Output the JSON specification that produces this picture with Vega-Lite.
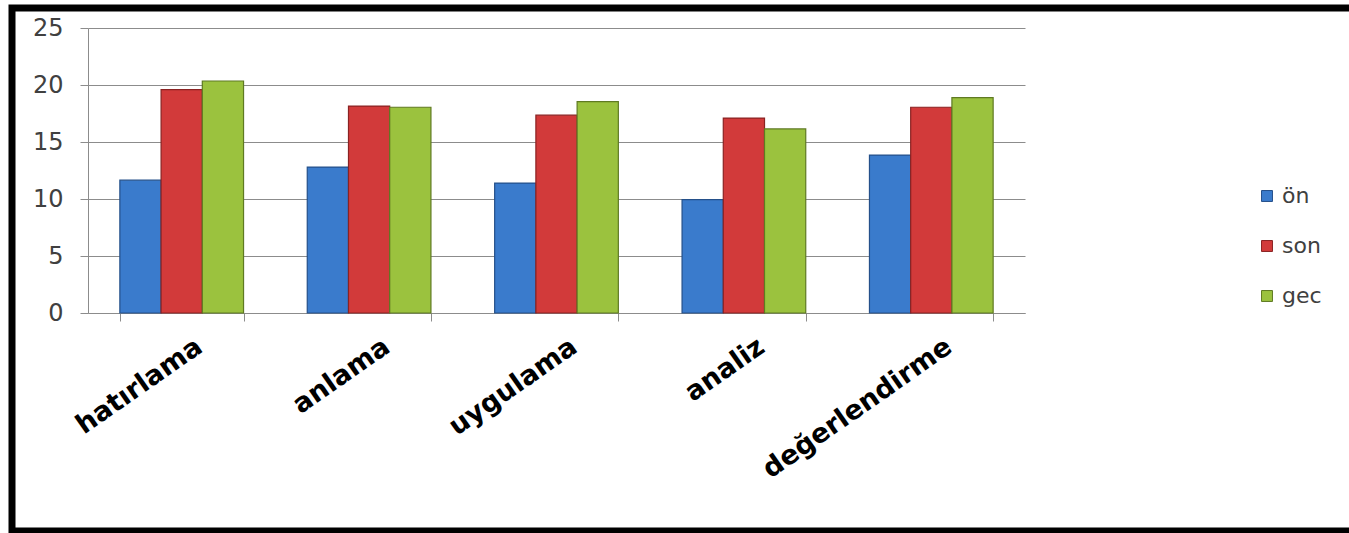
{
  "$schema": "https://vega.github.io/schema/vega-lite/v6.json",
  "width": 937,
  "height": 285,
  "autosize": "none",
  "padding": {"left": 88, "top": 28, "right": 324, "bottom": 220},
  "background": "white",
  "config": {"view": {"stroke": null}, "font": "DejaVu Sans"},
  "layer": [
    {
      "data": {
        "values": [
          {"kategori": "hatırlama", "seri": "ön", "deger": 11.65},
          {"kategori": "hatırlama", "seri": "son", "deger": 19.6},
          {"kategori": "hatırlama", "seri": "gec", "deger": 20.35},
          {"kategori": "anlama", "seri": "ön", "deger": 12.8},
          {"kategori": "anlama", "seri": "son", "deger": 18.15},
          {"kategori": "anlama", "seri": "gec", "deger": 18.05},
          {"kategori": "uygulama", "seri": "ön", "deger": 11.4},
          {"kategori": "uygulama", "seri": "son", "deger": 17.35},
          {"kategori": "uygulama", "seri": "gec", "deger": 18.55},
          {"kategori": "analiz", "seri": "ön", "deger": 9.95},
          {"kategori": "analiz", "seri": "son", "deger": 17.1},
          {"kategori": "analiz", "seri": "gec", "deger": 16.15},
          {"kategori": "değerlendirme", "seri": "ön", "deger": 13.85},
          {"kategori": "değerlendirme", "seri": "son", "deger": 18.05},
          {"kategori": "değerlendirme", "seri": "gec", "deger": 18.9}
        ]
      },
      "mark": {"type": "bar", "strokeWidth": 1.2},
      "encoding": {
        "x": {
          "field": "kategori",
          "type": "nominal",
          "sort": ["hatırlama", "anlama", "uygulama", "analiz", "değerlendirme"],
          "scale": {"paddingInner": 0.34, "paddingOuter": 0.17},
          "axis": {
            "title": null,
            "grid": false,
            "labelAngle": -35,
            "labelFontSize": 27,
            "labelFontWeight": "bold",
            "labelColor": "#000000",
            "labelPadding": 12,
            "labelOffset": 10,
            "labelLimit": 0,
            "labelOverlap": false,
            "tickBand": "extent",
            "tickSize": 8,
            "tickColor": "#8c8c8c",
            "domainColor": "#8c8c8c"
          }
        },
        "xOffset": {"field": "seri", "sort": ["ön", "son", "gec"]},
        "y": {
          "field": "deger",
          "type": "quantitative",
          "scale": {"domain": [0, 25]},
          "axis": {
            "title": null,
            "values": [0, 5, 10, 15, 20, 25],
            "grid": true,
            "gridColor": "#8c8c8c",
            "gridWidth": 1,
            "tickSize": 8,
            "tickColor": "#8c8c8c",
            "domainColor": "#8c8c8c",
            "labelFontSize": 24,
            "labelColor": "#404040",
            "labelPadding": 17
          }
        },
        "color": {
          "field": "seri",
          "type": "nominal",
          "scale": {"domain": ["ön", "son", "gec"], "range": ["#3a7bcc", "#d23a3a", "#9bc23e"]},
          "legend": {
            "title": null,
            "orient": "none",
            "legendX": 1168,
            "legendY": 157,
            "symbolType": "square",
            "symbolSize": 120,
            "symbolStrokeWidth": 1,
            "labelFontSize": 22,
            "labelColor": "#404040",
            "rowPadding": 28,
            "labelOffset": 4
          }
        },
        "stroke": {
          "field": "seri",
          "type": "nominal",
          "scale": {"domain": ["ön", "son", "gec"], "range": ["#24508a", "#8a2222", "#5f7a22"]},
          "legend": null
        }
      }
    },
    {
      "data": {"values": [{"parca": "çerçeve"}]},
      "mark": {"type": "rect", "filled": false, "stroke": "#000000", "strokeWidth": 7},
      "encoding": {
        "x": {"datum": 0, "type": "quantitative", "scale": {"domain": [0, 1], "range": [-76, 1300]}, "axis": null},
        "x2": {"datum": 1},
        "y": {"datum": 0, "type": "quantitative", "scale": {"domain": [0, 1], "range": [503, -20]}, "axis": null},
        "y2": {"datum": 1}
      }
    }
  ],
  "resolve": {"scale": {"x": "independent", "y": "independent"}}
}
